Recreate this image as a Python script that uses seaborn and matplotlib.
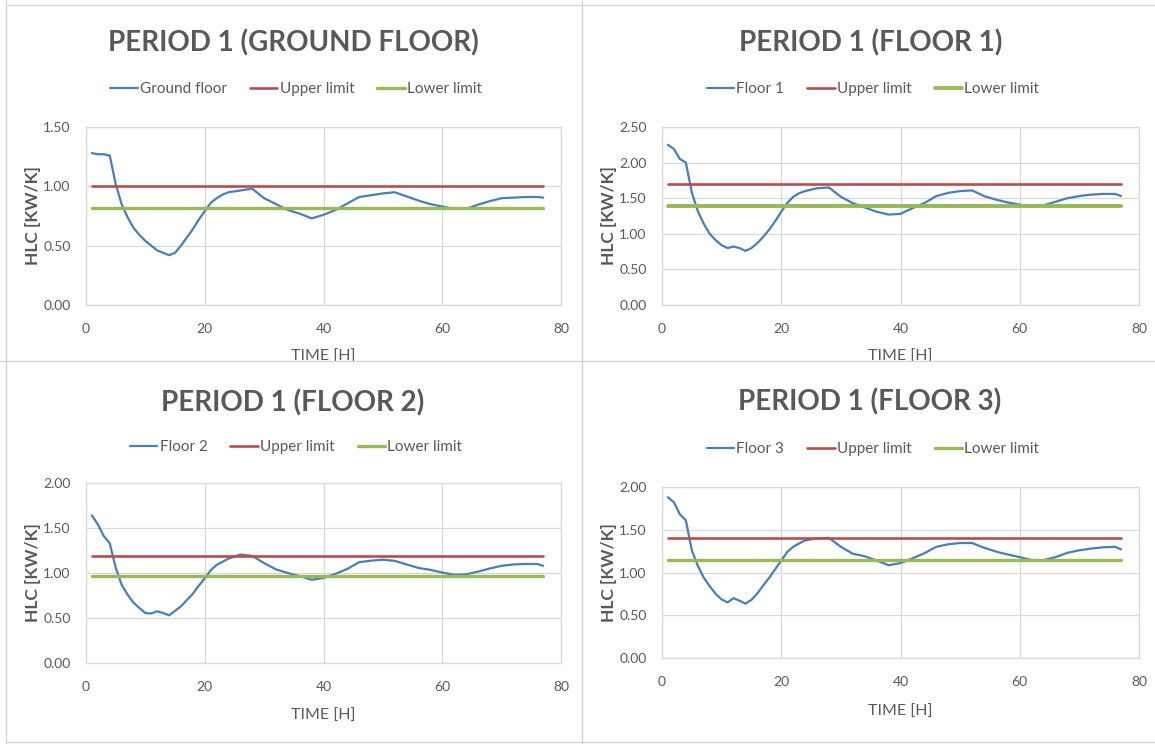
import matplotlib
matplotlib.use("Agg")
import matplotlib.pyplot as plt
import seaborn as sns
from matplotlib.patches import Rectangle
from matplotlib.lines import Line2D

# hourly readings (HLC in kW/K)
hours = [1, 2, 3, 4, 5, 6, 7, 8, 9, 10, 11, 12, 13, 14, 15, 16, 17, 18, 19, 20,
         21, 22, 23, 24, 26, 28, 30, 32, 34, 36, 38, 40, 42, 44, 46, 48, 50, 52,
         54, 56, 58, 60, 62, 64, 66, 68, 70, 72, 74, 76, 77]

ground_floor = [1.28, 1.27, 1.27, 1.26, 1.02, 0.85, 0.74, 0.65, 0.59, 0.54, 0.50, 0.46,
                0.44, 0.42, 0.44, 0.50, 0.57, 0.64, 0.72, 0.79, 0.86, 0.90, 0.93, 0.95,
                0.965, 0.98, 0.90, 0.85, 0.80, 0.77, 0.73, 0.76, 0.80, 0.855, 0.91, 0.925,
                0.94, 0.95, 0.915, 0.88, 0.85, 0.83, 0.81, 0.81, 0.845, 0.875, 0.90, 0.905,
                0.91, 0.91, 0.905]

floor_1 = [2.25, 2.19, 2.05, 2.00, 1.58, 1.32, 1.14, 1.00, 0.91, 0.84, 0.80, 0.82,
           0.80, 0.76, 0.80, 0.87, 0.96, 1.06, 1.18, 1.31, 1.43, 1.52, 1.57, 1.60,
           1.64, 1.65, 1.52, 1.43, 1.37, 1.31, 1.27, 1.28, 1.36, 1.43, 1.53, 1.575,
           1.60, 1.61, 1.53, 1.48, 1.44, 1.41, 1.38, 1.40, 1.45, 1.50, 1.53, 1.55,
           1.56, 1.56, 1.53]

floor_2 = [1.64, 1.54, 1.41, 1.33, 1.06, 0.87, 0.76, 0.67, 0.61, 0.555, 0.55, 0.575,
           0.555, 0.53, 0.58, 0.63, 0.70, 0.77, 0.86, 0.94, 1.03, 1.09, 1.125, 1.16,
           1.205, 1.19, 1.11, 1.04, 1.00, 0.965, 0.925, 0.945, 0.99, 1.045, 1.12, 1.137,
           1.148, 1.135, 1.095, 1.056, 1.035, 1.005, 0.98, 0.985, 1.015, 1.05, 1.08, 1.095,
           1.10, 1.10, 1.08]

floor_3 = [1.88, 1.82, 1.68, 1.61, 1.26, 1.08, 0.94, 0.84, 0.75, 0.685, 0.65, 0.70,
           0.67, 0.635, 0.68, 0.756, 0.85, 0.94, 1.04, 1.14, 1.24, 1.30, 1.34, 1.375,
           1.40, 1.405, 1.30, 1.22, 1.19, 1.14, 1.085, 1.11, 1.165, 1.225, 1.30, 1.33,
           1.345, 1.345, 1.29, 1.245, 1.21, 1.18, 1.145, 1.145, 1.18, 1.23, 1.26, 1.28,
           1.295, 1.30, 1.27]

series_names = ["Ground floor", "Floor 1", "Floor 2", "Floor 3"]
titles = ["PERIOD 1 (GROUND FLOOR)", "PERIOD 1 (FLOOR 1)", "PERIOD 1 (FLOOR 2)", "PERIOD 1 (FLOOR 3)"]
upper_limits = [1.00, 1.70, 1.19, 1.40]
lower_limits = [0.82, 1.39, 0.97, 1.15]
y_tops = [1.5, 2.5, 2.0, 2.0]
x_ticks = [0, 20, 40, 60, 80]

sns.set_theme(style="whitegrid")
plt.rcParams['font.family'] = ['Lato', 'DejaVu Sans']

BLUE, RED, GREEN = '#4A7EBB', '#BE4B48', '#98B954'
TXT = '#595959'
W, H = 1155, 744

def px_rect(x0, y0, x1, y1):
    return [x0 / W, 1 - y1 / H, (x1 - x0) / W, (y1 - y0) / H]

fig = plt.figure(figsize=(11.55, 7.44), dpi=100)

# (axes box, title centre, legend centre, xlabel top, zorder)
layout = [
    ((86, 127, 561, 305), (293, 43), (296, 89), 350, 0),
    ((662, 127, 1139, 305), (871, 43), (873, 89), 350, 0),
    ((86, 483, 561, 663), (293, 403), (296, 447), 709, 2),
    ((662, 487, 1139, 658), (870, 402), (873, 449), 705, 2),
]

data = [ground_floor, floor_1, floor_2, floor_3]

for i, vals in enumerate(data):
    (x0, y0, x1, y1), tpos, lpos, xl_top, z = layout[i]
    ax = fig.add_axes(px_rect(x0, y0, x1, y1))
    ax.set_zorder(z)
    ax.set_facecolor('white')

    sns.lineplot(x=hours, y=vals, ax=ax, color=BLUE, linewidth=1.6, label=series_names[i])
    sns.lineplot(x=hours, y=[upper_limits[i]] * len(hours), ax=ax, color=RED,
                 linewidth=1.9, label="Upper limit")
    sns.lineplot(x=hours, y=[lower_limits[i]] * len(hours), ax=ax, color=GREEN,
                 linewidth=2.4 if i != 1 else 2.8, label="Lower limit")

    ax.set_xlim(0, 80)
    ax.set_ylim(0, y_tops[i])
    ax.set_xticks(x_ticks)
    ax.set_yticks([v * 0.5 for v in range(int(y_tops[i] / 0.5) + 1)])
    ax.yaxis.set_major_formatter(matplotlib.ticker.FormatStrFormatter('%.2f'))
    ax.grid(True, color='#d9d9d9', linewidth=0.9)
    for s in ax.spines.values():
        s.set_color('#d9d9d9')
        s.set_linewidth(0.9)
    ax.tick_params(axis='y', length=0, pad=11, labelsize=10, labelcolor=TXT)
    ax.tick_params(axis='x', length=0, pad=13, labelsize=10, labelcolor=TXT)

    ax.set_ylabel("HLC [KW/K]", fontsize=12.5, color=TXT, fontweight='bold')
    ax.yaxis.set_label_coords(-0.095, 0.5)
    ax.set_xlabel("TIME [H]", fontsize=11.5, color=TXT)
    ax.xaxis.set_label_coords(0.5, (y1 - xl_top) / (y1 - y0))

    ax.legend(loc='center', bbox_to_anchor=(lpos[0] / W, 1 - lpos[1] / H),
              bbox_transform=fig.transFigure, ncol=3, frameon=False,
              fontsize=11, labelcolor=TXT, handlelength=1.8, handletextpad=0.15,
              columnspacing=1.5)

    fig.text(tpos[0] / W, 1 - tpos[1] / H, titles[i], ha='center', va='center',
             fontsize=20, fontweight='bold', color=TXT)

# screenshot tiling: lower tiles cover the upper ones, thin grey borders
fig.add_artist(Rectangle((0, 0), 1, 1 - 361 / H, transform=fig.transFigure,
                         facecolor='white', edgecolor='none', zorder=1))
border = '#d6d6d6'
for xs, ys in [((6, W), (4.5, 4.5)), ((6, 6), (0, H)), ((582, 582), (0, H)),
               ((0, W), (361, 361)), ((6, W), (742, 742))]:
    fig.add_artist(Line2D([x / W for x in xs], [1 - y / H for y in ys],
                          transform=fig.transFigure, color=border, linewidth=1.0, zorder=5))

fig.savefig("out.png", dpi=100)
